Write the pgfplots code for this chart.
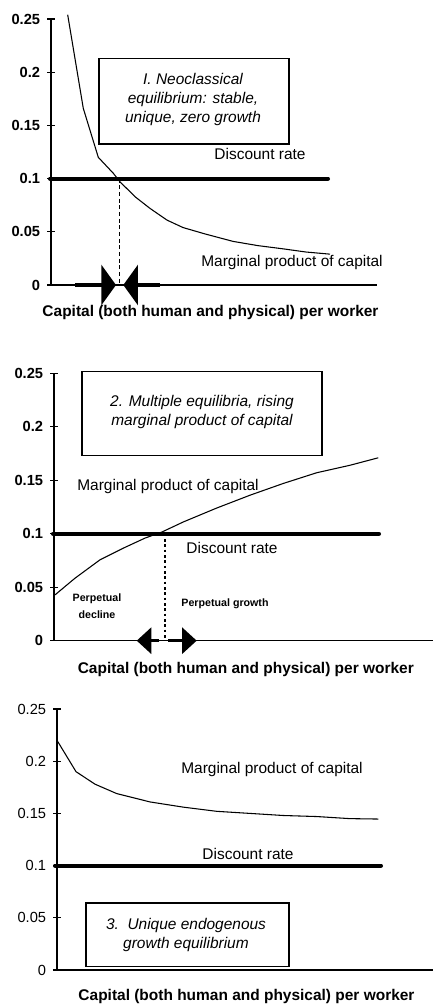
\documentclass[border=0pt]{standalone}
\usepackage{fontspec}
\setmainfont{Liberation Sans}
\usepackage{pgfplots}
\pgfplotsset{compat=1.18}
\usetikzlibrary{arrows.meta}

\newcommand{\lbl}{\fontsize{11.6}{14}\selectfont}
\newcommand{\boxf}{\fontsize{11.6}{14.25}\selectfont\itshape}
\pgfplotsset{
  panel/.style={
    anchor=south west, scale only axis, clip=false,
    ymin=0, ymax=0.25,
    axis lines*=left,
    axis line style={line width=0.8pt},
    xtick=\empty,
    ytick={0,0.05,0.1,0.15,0.2,0.25},
    yticklabels={0,0.05,0.1,0.15,0.2,0.25},
    tick align=center, major tick length=6pt,
    every tick/.style={line width=0.8pt, black},
    yticklabel style={font=\fontsize{11}{13}\selectfont, inner sep=1pt, xshift=-4pt},
  },
  mpk/.style={black, line width=0.8pt, mark=none},
  disc/.style={black, line width=3pt, mark=none, line cap=round},
}

\begin{document}
\begin{tikzpicture}
\path[use as bounding box] (0,0) rectangle (325.5pt,-754.5pt);

% ---------------- Panel 1 ----------------
\begin{axis}[panel, at={(38.25pt,-213.75pt)}, width=244.5pt, height=199.5pt,
  xmin=0, xmax=326,
  yticklabel style={font=\fontsize{11}{13}\selectfont\bfseries}]
\addplot[disc] coordinates {(-1,0.1) (277,0.1)};
\addplot[mpk] coordinates {
(16.7,0.254) (32.3,0.166) (47.3,0.120) (62.3,0.105) (69,0.097) (84,0.083)
(99,0.072) (116,0.061) (132,0.054) (154,0.048) (182,0.041) (207,0.037)
(232,0.034) (255,0.031) (279,0.029)};
\draw[line width=0.8pt, dash pattern=on 3pt off 2pt] (axis cs:68.5,0.1) -- (axis cs:68.5,0);
\draw[line width=2.5pt, -{Triangle[length=11pt, width=30pt]}] (axis cs:24,0) -- (axis cs:65,0);
\draw[line width=2.5pt, -{Triangle[length=11pt, width=30pt]}] (axis cs:109,0) -- (axis cs:72.3,0);
\draw[line width=0.8pt] (axis cs:48,0.1325) rectangle (axis cs:238,0.2133);
\node[align=center, font=\boxf] at (axis cs:142,0.1739)
  {I. Neoclassical\\ equilibrium: stable,\\ unique, zero growth};
\node[font=\lbl] at (axis cs:209,0.1231) {Discount rate};
\node[font=\lbl] at (axis cs:241,0.0216) {Marginal product of capital};
\node[font=\lbl\bfseries] at (axis cs:159.5,-0.0263) {Capital (both human and physical) per worker};
\end{axis}

% ---------------- Panel 2 ----------------
\begin{axis}[panel, at={(40.5pt,-480.5pt)}, width=284.25pt, height=200.55pt,
  xmin=0, xmax=379,
  yticklabel style={font=\fontsize{11}{13}\selectfont\bfseries}]
\addplot[disc] coordinates {(-1,0.1) (325,0.1)};
\addplot[mpk] coordinates {
(1,0.0428) (21,0.0584) (46,0.0756) (69.3,0.0865) (91,0.0959) (107.7,0.1015)
(129.3,0.111) (162.7,0.124) (196,0.136) (229.3,0.147) (262.7,0.157)
(296,0.164) (324.3,0.171)};
\draw[line width=0.8pt, dash pattern=on 2pt off 2pt] (axis cs:111,0.1) -- (axis cs:111,0);
\draw[line width=2.5pt, -{Triangle[length=11pt, width=19.5pt]}] (axis cs:105.3,0) -- (axis cs:82.7,0);
\draw[line width=2.5pt, -{Triangle[length=11pt, width=19.5pt]}] (axis cs:114.3,0) -- (axis cs:142.7,0);
\draw[line width=0.8pt] (axis cs:28,0.1729) rectangle (axis cs:268,0.2516);
\node[align=center, font=\boxf] at (axis cs:148,0.2137)
  {2. Multiple equilibria, rising\\ marginal product of capital};
\node[font=\lbl] at (axis cs:114,0.1439) {Marginal product of capital};
\node[font=\lbl] at (axis cs:178,0.0868) {Discount rate};
\node[align=center, font=\fontsize{8}{12.75}\selectfont\bfseries] at (axis cs:43,0.032) {Perpetual\\ decline};
\node[font=\fontsize{8}{12}\selectfont\bfseries] at (axis cs:171,0.0344) {Perpetual growth};
\node[font=\lbl\bfseries] at (axis cs:191.8,-0.0274) {Capital (both human and physical) per worker};
\end{axis}

% ---------------- Panel 3 ----------------
\begin{axis}[panel, at={(42.75pt,-727.5pt)}, width=282pt, height=195.75pt,
  xmin=0, xmax=376]
\addplot[disc] coordinates {(-2,0.1) (324,0.1)};
\addplot[mpk] coordinates {
(0,0.220) (19,0.190) (38,0.178) (59.7,0.169) (93,0.161) (126.3,0.156)
(159.7,0.152) (193,0.150) (226.3,0.148) (259.7,0.147) (293,0.145) (321.3,0.1446)};
\draw[line width=0.8pt] (axis cs:29,0.0038) rectangle (axis cs:232,0.0642);
\node[align=center, font=\boxf] at (axis cs:129,0.034)
  {3.\ \ Unique endogenous\\ growth equilibrium};
\node[font=\lbl] at (axis cs:215,0.1925) {Marginal product of capital};
\node[font=\lbl] at (axis cs:191,0.1111) {Discount rate};
\node[font=\lbl\bfseries] at (axis cs:189.5,-0.0249) {Capital (both human and physical) per worker};
\end{axis}
\end{tikzpicture}
\end{document}
